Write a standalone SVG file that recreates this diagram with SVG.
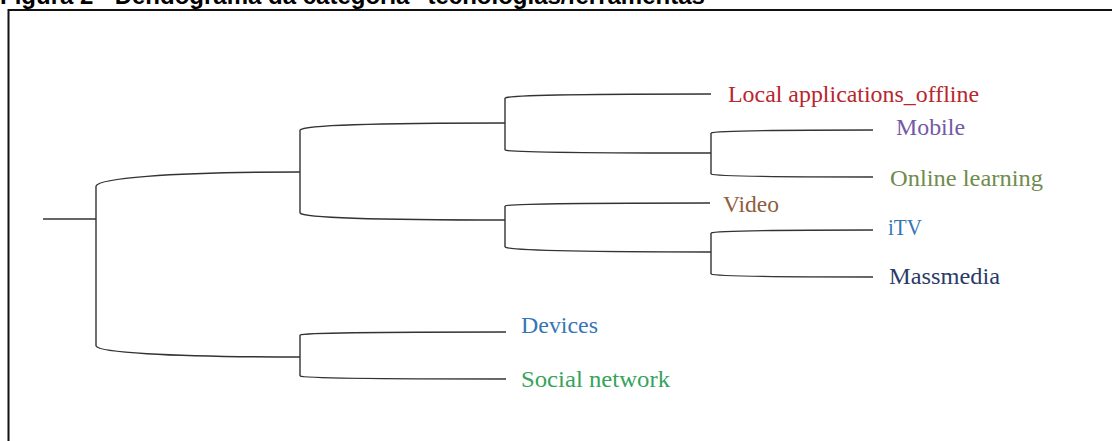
<svg xmlns="http://www.w3.org/2000/svg" width="1112" height="441" viewBox="0 0 1112 441">
<style>
.ln{fill:none;stroke:#333;stroke-width:1.4}
.lb{font-family:"Liberation Serif","DejaVu Serif",serif;font-size:23px}
.tt{font-family:"Liberation Sans",Arial,sans-serif;font-size:24px;font-weight:bold;fill:#000}
</style>
<rect width="1112" height="441" fill="#fff"/>
<text class="tt" x="0" y="4">Figura 2 - Dendograma da categoria "tecnologias/ferramentas"</text>
<path d="M8.5,441 V10 H1112" fill="none" stroke="#111" stroke-width="2"/>
<g id="connectors" class="ln">
<path d="M43,219 H96"/>
<path d="M96,186 V346"/>
<path d="M96,186 C99,179 161,172 300,172"/>
<path d="M96,346 C99,352 161,357 300,357"/>
<path d="M300,130 V213"/>
<path d="M300,130 C303,126 362,123 505,123"/>
<path d="M300,213 C303,217 362,220 505,220"/>
<path d="M300,335 C303,333 362,332 506,332"/>
<path d="M300,335 V376"/>
<path d="M300,376 C303,378 362,379 506,379"/>
<path d="M505,98 V150"/>
<path d="M505,98 C508,96 567,94 711,94"/>
<path d="M505,150 C508,152 567,153 711,153"/>
<path d="M505,206 V247"/>
<path d="M505,206 C508,204 567,203 710,203"/>
<path d="M505,247 C508,250 567,252 711,252"/>
<path d="M711,133 V174"/>
<path d="M711,133 C714,131 760,130 873,130"/>
<path d="M711,174 C714,176 760,177 873,177"/>
<path d="M711,233 V274"/>
<path d="M711,233 C714,231 760,230 873,230"/>
<path d="M711,274 C714,276 760,277 873,277"/>
</g>
<g id="leaf-local"><text class="lb" x="728" y="102" fill="#b8262e" textLength="251" lengthAdjust="spacingAndGlyphs">Local applications_offline</text></g>
<g id="leaf-mobile"><text class="lb" x="896" y="135" fill="#7558a6" textLength="69" lengthAdjust="spacingAndGlyphs">Mobile</text></g>
<g id="leaf-online"><text class="lb" x="890" y="186" fill="#6f8c4c" textLength="153" lengthAdjust="spacingAndGlyphs">Online learning</text></g>
<g id="leaf-video"><text class="lb" x="723" y="212" fill="#8f5e3e" textLength="56" lengthAdjust="spacingAndGlyphs">Video</text></g>
<g id="leaf-itv"><text class="lb" x="888" y="235" fill="#3577b3" textLength="34" lengthAdjust="spacingAndGlyphs">iTV</text></g>
<g id="leaf-massmedia"><text class="lb" x="889" y="284" fill="#2a3b66" textLength="111" lengthAdjust="spacingAndGlyphs">Massmedia</text></g>
<g id="leaf-devices"><text class="lb" x="521" y="333" fill="#3776b4" textLength="77" lengthAdjust="spacingAndGlyphs">Devices</text></g>
<g id="leaf-social"><text class="lb" x="521" y="387" fill="#35a35c" textLength="149" lengthAdjust="spacingAndGlyphs">Social network</text></g>
</svg>
